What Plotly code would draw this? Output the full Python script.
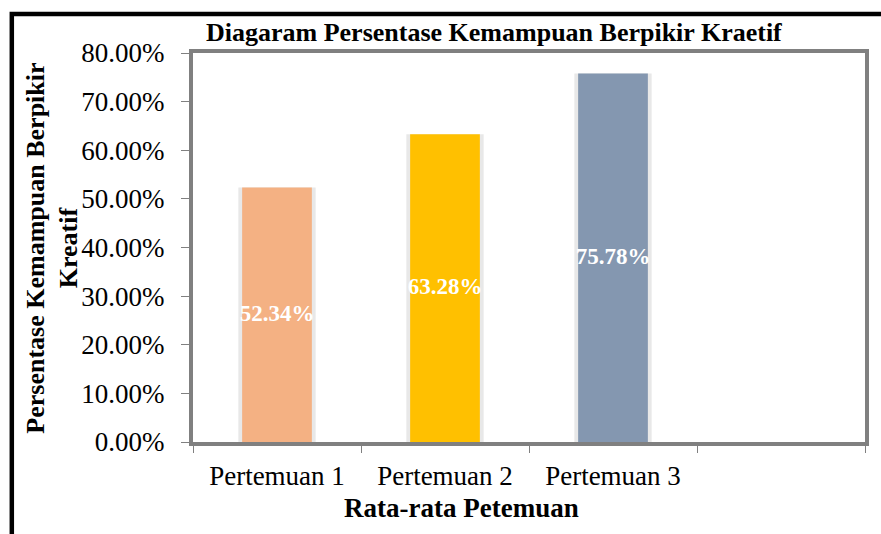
import plotly.graph_objects as go

categories = ["Pertemuan 1", "Pertemuan 2", "Pertemuan 3"]
values = [52.34, 63.28, 75.78]
labels = ["52.34%", "63.28%", "75.78%"]
colors = ["#F4B183", "#FFC000", "#8497B0"]
y_ticks = [0, 10, 20, 30, 40, 50, 60, 70, 80]

FONT = "Liberation Serif, Times New Roman, serif"
xs = list(range(len(categories)))

fig = go.Figure()
# soft shadow behind bars
fig.add_trace(go.Bar(x=xs, y=values, width=0.46, marker=dict(color="#E8E8E8", line=dict(width=0)),
                     hoverinfo="skip", showlegend=False))
fig.add_trace(go.Bar(x=xs, y=values, width=0.415, marker=dict(color=colors, line=dict(width=0)),
                     showlegend=False))
fig.add_trace(go.Scatter(x=xs, y=[v / 2 for v in values], mode="text", text=labels,
                         textfont=dict(family=FONT, size=23, color="white", weight="bold"),
                         showlegend=False, hoverinfo="skip"))

fig.update_layout(
    width=881, height=534,
    margin=dict(l=193, r=13, t=53, b=92),
    paper_bgcolor="white", plot_bgcolor="white",
    barmode="overlay",
    font=dict(family=FONT, color="black"),
    xaxis=dict(range=[-0.5, 3.5], tickmode="array", tickvals=xs, ticktext=categories,
               ticks="", showgrid=False, zeroline=False,
               showline=True, linecolor="#808080", linewidth=4, mirror=True,
               tickfont=dict(size=27, family=FONT),
               minor=dict(ticks="outside", tickmode="linear", tick0=-0.5, dtick=1,
                          ticklen=7, tickcolor="#808080", tickwidth=1, showgrid=False),
               ticklabelstandoff=7),
    yaxis=dict(range=[0, 80], tickmode="array", tickvals=y_ticks,
               ticktext=[f"{v:.2f}%" for v in y_ticks],
               ticks="outside", ticklen=8, tickcolor="#808080", tickwidth=1,
               showgrid=False, zeroline=False,
               showline=True, linecolor="#808080", linewidth=4, mirror=True,
               tickfont=dict(size=27, family=FONT), ticklabelstandoff=11),
    shapes=[dict(type="rect", xref="paper", yref="paper",
                 x0=(11 - 193) / 675, x1=(920 - 193) / 675,
                 y0=(442 - 560) / 389, y1=(442 - 14) / 389,
                 line=dict(color="black", width=4.5), fillcolor="rgba(0,0,0,0)", layer="below")],
    annotations=[
        dict(text="<b>Diagaram Persentase Kemampuan Berpikir Kraetif</b>", xref="paper", yref="paper",
             x=(495 - 193) / 675, y=(442 - 32) / 389, showarrow=False,
             font=dict(size=26, family=FONT), xanchor="center", yanchor="middle"),
        dict(text="<b>Persentase Kemampuan Berpikir<br>Kreatif</b>", xref="paper", yref="paper",
             x=(52 - 193) / 675, y=(442 - 248) / 389, showarrow=False, textangle=-90,
             font=dict(size=26, family=FONT), xanchor="center", yanchor="middle"),
        dict(text="<b>Rata-rata Petemuan</b>", xref="paper", yref="paper",
             x=(463 - 193) / 675, y=(442 - 508) / 389, showarrow=False,
             font=dict(size=27, family=FONT), xanchor="center", yanchor="middle"),
    ],
)

fig.write_html("out.html", config={"displayModeBar": False},
               post_script="document.body.style.margin='0';document.body.style.overflow='hidden';")
